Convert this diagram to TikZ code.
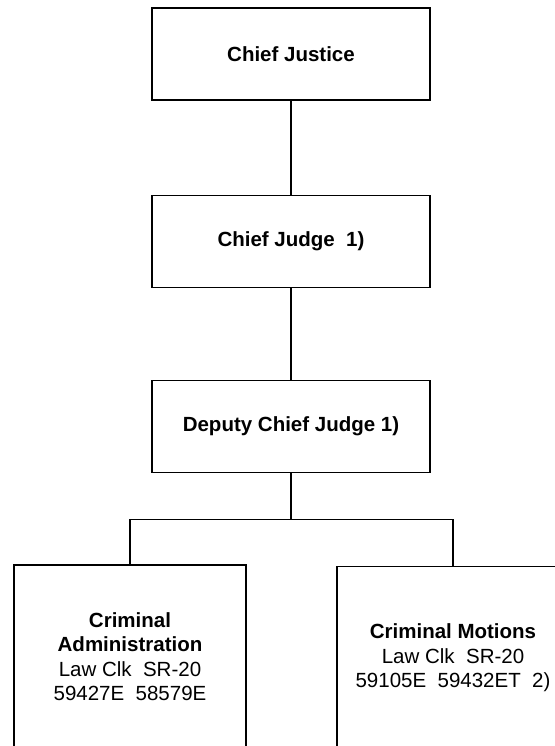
\documentclass[tikz,border=0pt]{standalone}
\usepackage{fontspec}
\setmainfont{Liberation Sans}
\begin{document}
\begin{tikzpicture}[x=1pt,y=-1pt,
  orgbox/.style={draw, line width=1.8pt, inner sep=0pt, align=center,
    font=\fontsize{20.5}{24.5}\selectfont},
  topbox/.style={orgbox, minimum width=278pt, minimum height=92pt},
  lowbox/.style={orgbox, minimum width=232pt, minimum height=183pt},
  link/.style={line width=1.3pt}]
\useasboundingbox (0,0) rectangle (554,746);

% chain of command
\node[topbox] (cj)  at (291,54)    {\textbf{Chief Justice}};
\node[topbox] (cjg) at (291,241.5) {\textbf{Chief Judge\ \ 1)}};
\node[topbox] (dcj) at (291,426.5) {\textbf{Deputy Chief Judge 1)}};

% law clerk units (running past the lower page edge)
\node[lowbox] (adm) at (130,656.5)
  {\textbf{Criminal}\\\textbf{Administration}\\Law Clk\ \ SR-20\\59427E\ \ 58579E};
\node[lowbox] (mot) at (453,658)
  {\textbf{Criminal Motions}\\Law Clk\ \ SR-20\\59105E\ \ 59432ET\ \ 2)};

% connectors
\draw[link] (cj.south)  -- (cjg.north);
\draw[link] (cjg.south) -- (dcj.north);
\draw[link] (dcj.south) -- ++(0,46) coordinate (split);
\draw[link] (adm.north) |- (split) -| (mot.north);
\end{tikzpicture}
\end{document}
